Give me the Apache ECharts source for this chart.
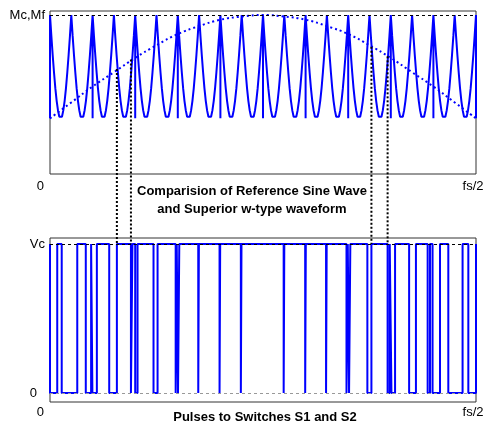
<!DOCTYPE html>
<html>
<head>
<meta charset="utf-8">
<script src="https://cdn.jsdelivr.net/npm/echarts@6/dist/echarts.min.js"></script>
<style>
    html, body { margin: 0; padding: 0; background: #fff; }
    #chart { width: 487px; height: 428px; }
</style>
</head>
<body>
<div id="chart"></div>
<script>
    // x axis in carrier periods: 0 .. 20 (= fs/2)
    const xTicks = [0, 20];
    const xTickLabels = ['0', 'fs/2'];

    // one carrier period of the w-type wave, 16 steps from peak to peak
    const cycleShape = [1, 0.87, 0.75, 0.64, 0.54, 0.46, 0.40, 0.36, 0.35,
                        0.36, 0.40, 0.46, 0.54, 0.64, 0.75, 0.87];
    const peaks = [0, 1, 2, 3, 4, 5, 6, 7, 8, 9, 10, 11, 12, 13, 14, 15, 16, 17, 18, 19, 20];
    // peaks where the wave drops straight down to its floor
    const dropPeaks = [0, 2, 4, 6, 8, 10, 12, 14, 16, 18, 20];
    const waveFloor = 0.35;

    // reference sine (dotted), one value per carrier period
    const sineX = [0, 1, 2, 3, 4, 5, 6, 7, 8, 9, 10, 11, 12, 13, 14, 15, 16, 17, 18, 19, 20];
    const sineY = [0.35, 0.45, 0.55, 0.64, 0.73, 0.81, 0.88, 0.93, 0.97, 0.99, 1.0,
                   0.99, 0.97, 0.93, 0.88, 0.81, 0.73, 0.64, 0.55, 0.45, 0.35];

    // switch pulses: level at x=0, then the x of every edge
    const pulseStart = 1;
    const pulseEdges = [0, 0.34, 0.55, 1.28, 1.68, 1.93, 1.99, 2.20, 2.78, 3.14, 3.80, 3.87,
        4.00, 4.11, 4.86, 5.05, 5.90, 5.95, 6.01, 6.07, 6.96, 6.99, 7.96, 7.99, 8.96, 8.99,
        10.97, 11.00, 11.98, 12.01, 12.96, 12.99, 13.92, 13.98, 14.04, 14.10, 14.90, 15.09,
        15.85, 15.95, 16.03, 16.20, 16.86, 17.18, 17.73, 17.84, 17.96, 18.31, 18.70, 19.37,
        19.64, 20.0];

    // dotted connectors: x and the sine level where they start
    const connX = [3.14, 3.80, 15.09, 15.85];
    const connY = [0.66, 0.72, 0.80, 0.74];

    const font = 'Liberation Sans, Arial, sans-serif';
    const blue = '#0000ff';

    let waveData = [];
    for (let k = 0; k < peaks.length - 1; k++) {
        if (dropPeaks.indexOf(peaks[k]) >= 0) {
            waveData.push([peaks[k], 1], [peaks[k], waveFloor]);
        }
        const step = (peaks[k + 1] - peaks[k]) / cycleShape.length;
        cycleShape.forEach(function (v, j) {
            waveData.push([peaks[k] + j * step, v]);
        });
    }
    const last = peaks[peaks.length - 1];
    waveData.push([last, 1], [last, waveFloor], [last, 1]);

    let pulseData = [];
    let level = pulseStart;
    pulseData.push([0, level]);
    pulseEdges.forEach(function (x) {
        pulseData.push([x, level]);
        level = 1 - level;
        pulseData.push([x, level]);
    });

    const sineData = sineX.map(function (x, i) { return [x, sineY[i]]; });

    function xLabel(v) {
        const i = xTicks.indexOf(v);
        return i >= 0 ? xTickLabels[i] : '';
    }

    const xAxisBase = {
        type: 'value', min: 0, max: 20, interval: 20,
        axisLine: { show: false }, axisTick: { show: false }, splitLine: { show: false },
        axisLabel: {
            formatter: xLabel, color: '#000', fontSize: 13, fontFamily: font,
            alignMinLabel: 'right', padding: [0, 0, 0, 0]
        }
    };

    const chart = echarts.init(document.getElementById('chart'));
    chart.setOption({
        animation: false,
        backgroundColor: '#fff',
        grid: [
            { left: 50, top: 11, width: 426, height: 163, show: true, borderColor: '#333', borderWidth: 1 },
            { left: 50, top: 238, width: 426, height: 164, show: true, borderColor: '#333', borderWidth: 1 }
        ],
        xAxis: [
            Object.assign({}, xAxisBase, { gridIndex: 0,
                axisLabel: Object.assign({}, xAxisBase.axisLabel, { margin: 6, padding: [0, 6, 0, 0] }) }),
            Object.assign({}, xAxisBase, { gridIndex: 1,
                axisLabel: Object.assign({}, xAxisBase.axisLabel, { margin: 4, padding: [0, 6, 0, 0] }) })
        ],
        yAxis: [
            {
                gridIndex: 0, type: 'value', min: 0, max: 1.025, interval: 0.025,
                axisLine: { show: false }, axisTick: { show: false }, splitLine: { show: false },
                axisLabel: {
                    margin: 5, color: '#000', fontSize: 13, fontFamily: font,
                    formatter: function (v) { return v === 1 ? 'Mc,Mf' : ''; }
                }
            },
            {
                gridIndex: 1, type: 'value', min: -0.06, max: 1.04, interval: 0.02,
                axisLine: { show: false }, axisTick: { show: false }, splitLine: { show: false },
                axisLabel: {
                    margin: 5, color: '#000', fontSize: 13, fontFamily: font,
                    formatter: function (v) {
                        if (v === 1) return 'Vc';
                        if (v === 0) return '{z|0}';
                        return '';
                    },
                    rich: { z: { fontSize: 13, fontFamily: font, color: '#000', padding: [0, 8, 0, 0] } }
                }
            }
        ],
        series: [
            {
                type: 'line', xAxisIndex: 0, yAxisIndex: 0, data: waveData,
                showSymbol: false, lineStyle: { color: blue, width: 2 },
                markLine: {
                    silent: true, symbol: ['none', 'none'], label: { show: false },
                    lineStyle: { color: '#000', type: [3, 3], width: 1 },
                    data: [{ yAxis: 1 }]
                },
                z: 3
            },
            {
                type: 'line', xAxisIndex: 0, yAxisIndex: 0, data: sineData, smooth: true,
                showSymbol: false, lineStyle: { color: blue, width: 2, type: [2, 3] },
                z: 4
            },
            {
                type: 'line', xAxisIndex: 1, yAxisIndex: 1, data: pulseData,
                showSymbol: false, lineStyle: { color: blue, width: 2 },
                markLine: {
                    silent: true, symbol: ['none', 'none'], label: { show: false },
                    data: [
                        { yAxis: 1, lineStyle: { color: '#000', type: [3, 3], width: 1 } },
                        { yAxis: 0, lineStyle: { color: '#999', type: [3, 3], width: 1 } }
                    ]
                },
                z: 3
            }
        ]
    });

    // titles and the dotted connectors between the two panels
    let graphics = [
        {
            type: 'text', x: 252, y: 182, z: 10,
            style: {
                text: 'Comparision of Reference Sine Wave\nand Superior w-type waveform',
                align: 'center', fill: '#000', fontSize: 13, fontWeight: 'bold',
                fontFamily: font, lineHeight: 18
            }
        },
        {
            type: 'text', x: 265, y: 411, z: 10,
            style: {
                text: 'Pulses to Switches S1 and S2',
                align: 'center', fill: '#000', fontSize: 13, fontWeight: 'bold', fontFamily: font
            }
        }
    ];
    connX.forEach(function (x, i) {
        const p1 = chart.convertToPixel({ gridIndex: 0 }, [x, connY[i]]);
        const p2 = chart.convertToPixel({ gridIndex: 1 }, [x, 1]);
        graphics.push({
            type: 'line', z: 5,
            shape: { x1: p1[0], y1: p1[1], x2: p2[0], y2: p2[1] },
            style: { stroke: '#000', lineWidth: 2, lineDash: [2, 2] }
        });
    });
    chart.setOption({ graphic: graphics });
</script>
</body>
</html>
